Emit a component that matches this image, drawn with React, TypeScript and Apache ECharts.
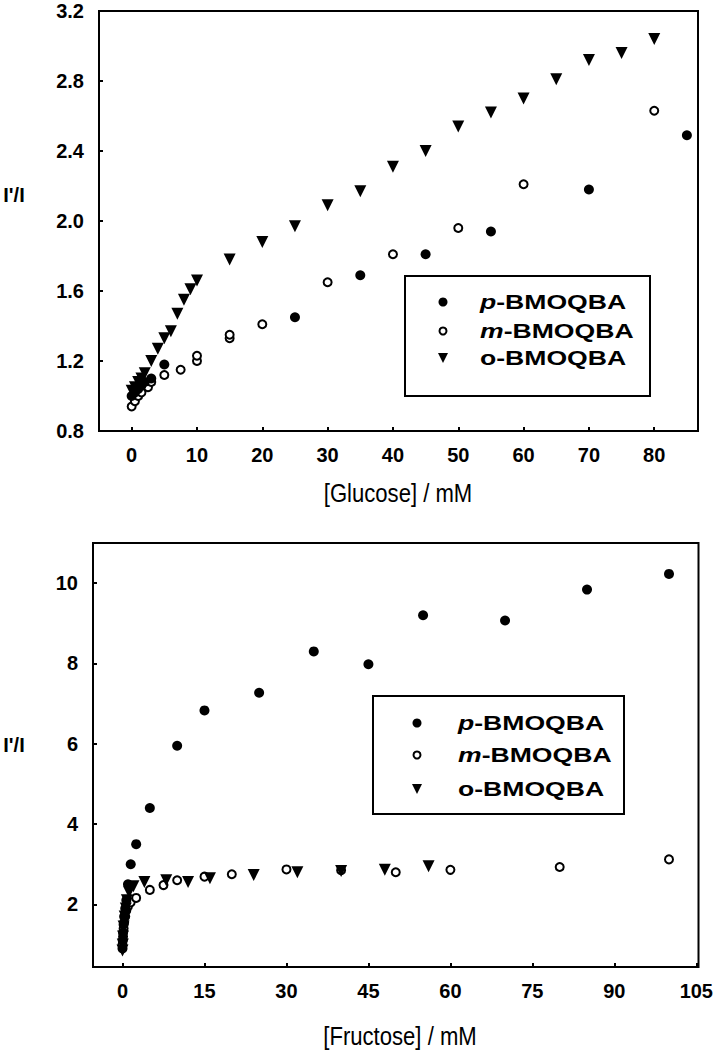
import React, { useEffect, useRef } from "react";
import * as echarts from "echarts";

// ---- Glucose panel data ----
const glucoseP: number[][] = [
  [0, 1.0], [0.5, 1.02], [1, 1.04], [1.5, 1.06], [2, 1.08], [3, 1.1], [5, 1.18],
  [25, 1.45], [35, 1.69], [45, 1.81], [55, 1.94], [70, 2.18], [85, 2.49],
];
const glucoseM: number[][] = [
  [0, 0.94], [0.5, 0.97], [1, 1.0], [1.5, 1.02], [2.5, 1.05], [3, 1.08], [5, 1.12],
  [7.5, 1.15], [10, 1.2], [10, 1.23], [15, 1.33], [15, 1.35], [20, 1.41],
  [30, 1.65], [40, 1.81], [50, 1.96], [60, 2.21], [80, 2.63],
];
const glucoseO: number[][] = [
  [0, 1.03], [0.5, 1.05], [1, 1.08], [1.5, 1.1], [2, 1.13], [3, 1.2], [4, 1.27],
  [5, 1.33], [6, 1.37], [7, 1.47], [8, 1.55], [9, 1.61], [10, 1.66], [15, 1.78],
  [20, 1.88], [25, 1.97], [30, 2.09], [35, 2.17], [40, 2.31], [45, 2.4], [50, 2.54],
  [55, 2.62], [60, 2.7], [65, 2.81], [70, 2.92], [75, 2.96], [80, 3.04],
];
const glucoseXTicks = [0, 10, 20, 30, 40, 50, 60, 70, 80];

// ---- Fructose panel data ----
const fructoseP: number[][] = [
  [0, 0.9], [0.05, 1.1], [0.1, 1.3], [0.2, 1.5], [0.3, 1.7], [0.5, 1.9], [0.7, 2.1],
  [1, 2.5], [1.5, 3.0], [2.5, 3.5], [5, 4.4], [10, 5.95], [15, 6.83], [25, 7.27],
  [35, 8.3], [45, 7.98], [55, 9.2], [70, 9.07], [85, 9.84], [100, 10.23],
];
const fructoseM: number[][] = [
  [0, 1.0], [0.1, 1.2], [0.2, 1.4], [0.3, 1.55], [0.5, 1.7], [0.7, 1.85], [1, 1.95],
  [1.5, 2.05], [2.5, 2.16], [5, 2.36], [7.5, 2.48], [10, 2.6], [15, 2.69], [20, 2.75],
  [30, 2.87], [40, 2.85], [50, 2.8], [60, 2.86], [80, 2.93], [100, 3.12],
];
const fructoseO: number[][] = [
  [0, 0.85], [0.05, 1.0], [0.1, 1.2], [0.2, 1.45], [0.4, 1.7], [0.6, 1.9], [0.8, 2.1],
  [1.2, 2.3], [2, 2.45], [4, 2.56], [8, 2.6], [12, 2.56], [16, 2.65], [24, 2.73],
  [32, 2.8], [40, 2.83], [48, 2.86], [56, 2.95],
];
const fructoseXTicks = [0, 15, 30, 45, 60, 75, 90, 105];
const fructoseYTicks = [2, 4, 6, 8, 10];

const seriesNames = ["p-BMOQBA", "m-BMOQBA", "o-BMOQBA"];
const legendLabels = ["{i|p}-BMOQBA", "{i|m}-BMOQBA", "o-BMOQBA"];
const yName = "I'/I";
const xNames = ["[Glucose] / mM", "[Fructose] / mM"];

const FONT = "Liberation Sans, Arial, sans-serif";

function legendGraphic(left: number, top: number, w: number, h: number, mx: number, tx: number, rows: number[]) {
  const els: any[] = [
    { type: "rect", shape: { x: left, y: top, width: w, height: h }, style: { fill: "#fff", stroke: "#000", lineWidth: 2 }, z: 10 },
  ];
  els.push({ type: "circle", shape: { cx: mx, cy: rows[0], r: 4.5 }, style: { fill: "#000" }, z: 11 });
  els.push({ type: "circle", shape: { cx: mx, cy: rows[1], r: 3.5 }, style: { fill: "#fff", stroke: "#000", lineWidth: 2 }, z: 11 });
  els.push({ type: "polygon", shape: { points: [[mx - 5, rows[2] - 5], [mx + 5, rows[2] - 5], [mx, rows[2] + 5]] }, style: { fill: "#000" }, z: 11 });
  rows.forEach((y, i) => {
    els.push({
      type: "text", x: tx, y, scaleX: 1.33, z: 11,
      style: {
        text: legendLabels[i], fill: "#000", font: `bold 20px ${FONT}`, verticalAlign: "middle", align: "left",
        rich: { i: { fontStyle: "italic", fontWeight: "bold", fontSize: 20, fontFamily: FONT } },
      },
    });
  });
  return els;
}

export default function App() {
  const ref = useRef<HTMLDivElement>(null);
  useEffect(() => {
    if (!ref.current) return;
    const chart = echarts.init(ref.current, null, { renderer: "svg" });
    const axisLabelStyle = { color: "#000", fontSize: 20, fontWeight: "bold", fontFamily: FONT };
    const tick = { show: true, inside: true, length: 4, lineStyle: { color: "#000", width: 2 } };
    const noLine = { show: false, onZero: false };
    const mkSeries = (data: number[][], kind: number, xi: number) => {
      const base: any = { type: "scatter", name: seriesNames[kind], data, xAxisIndex: xi, yAxisIndex: xi };
      if (kind === 0) return { ...base, symbol: "circle", symbolSize: 10, itemStyle: { color: "#000", opacity: 1 }, z: 3 };
      if (kind === 1) return { ...base, symbol: "circle", symbolSize: 8, itemStyle: { color: "#fff", borderColor: "#000", borderWidth: 2, opacity: 1 }, z: 2 };
      return { ...base, symbol: "triangle", symbolRotate: 180, symbolSize: 12, itemStyle: { color: "#000", opacity: 1 }, z: 4 };
    };
    chart.setOption({
      animation: false,
      backgroundColor: "#fff",
      grid: [
        { left: 99, top: 11, width: 599, height: 420, show: true, borderColor: "#000", borderWidth: 2, backgroundColor: "transparent" },
        { left: 93, top: 543, width: 607, height: 424, show: true, borderColor: "#000", borderWidth: 2, backgroundColor: "transparent" },
      ],
      xAxis: [
        {
          type: "value", gridIndex: 0, min: -5, max: 86.7,
          axisLine: noLine, splitLine: { show: false },
          axisTick: { ...tick, customValues: glucoseXTicks },
          axisLabel: { ...axisLabelStyle, margin: 14, customValues: glucoseXTicks },
        },
        {
          type: "value", gridIndex: 1, min: -5.4, max: 105.4,
          axisLine: noLine, splitLine: { show: false },
          axisTick: { ...tick, customValues: fructoseXTicks },
          axisLabel: { ...axisLabelStyle, margin: 14, customValues: fructoseXTicks },
        },
      ],
      yAxis: [
        {
          type: "value", gridIndex: 0, min: 0.8, max: 3.2, interval: 0.4,
          axisLine: noLine, splitLine: { show: false },
          axisTick: tick,
          axisLabel: { ...axisLabelStyle, margin: 15, formatter: (v: number) => v.toFixed(1) },
        },
        {
          type: "value", gridIndex: 1, min: 0.44, max: 11,
          axisLine: noLine, splitLine: { show: false },
          axisTick: { ...tick, customValues: fructoseYTicks },
          axisLabel: { ...axisLabelStyle, margin: 15, customValues: fructoseYTicks },
        },
      ],
      series: [
        mkSeries(glucoseM, 1, 0),
        mkSeries(glucoseP, 0, 0),
        mkSeries(glucoseO, 2, 0),
        mkSeries(fructoseM, 1, 1),
        mkSeries(fructoseP, 0, 1),
        mkSeries(fructoseO, 2, 1),
      ],
      graphic: [
        { type: "text", x: 14, y: 195, style: { text: yName, font: `bold 20px ${FONT}`, fill: "#000", align: "center", verticalAlign: "middle" } },
        { type: "text", x: 14, y: 745, style: { text: yName, font: `bold 20px ${FONT}`, fill: "#000", align: "center", verticalAlign: "middle" } },
        { type: "text", x: 398, y: 493, scaleX: 0.85, style: { text: xNames[0], font: `26px ${FONT}`, fill: "#000", align: "center", verticalAlign: "middle" } },
        { type: "text", x: 400, y: 1036, scaleX: 0.85, style: { text: xNames[1], font: `26px ${FONT}`, fill: "#000", align: "center", verticalAlign: "middle" } },
        ...legendGraphic(405, 276, 245, 120, 443, 480, [302, 331, 358]),
        ...legendGraphic(373, 696, 251, 118, 417, 458, [723, 755, 789]),
      ],
    });
    return () => chart.dispose();
  }, []);
  return <div ref={ref} style={{ position: "fixed", left: 0, top: 0, width: 716, height: 1050 }} />;
}
